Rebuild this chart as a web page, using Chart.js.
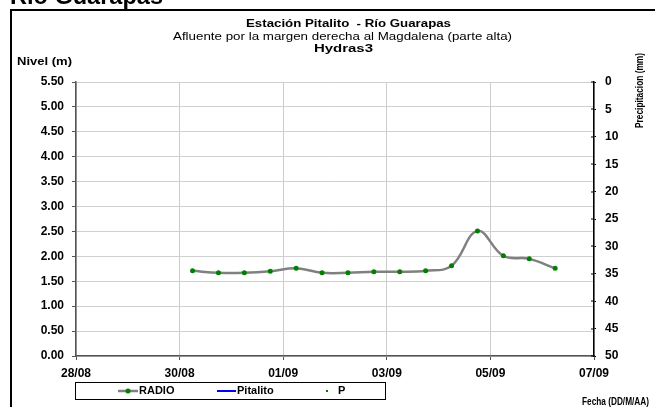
<!DOCTYPE html>
<html>
<head>
<meta charset="utf-8">
<script src="https://cdn.jsdelivr.net/npm/chart.js@4/dist/chart.umd.min.js"></script>
<style>
html,body{margin:0;padding:0;background:#fff;}
#wrap{position:relative;width:655px;height:407px;}
</style>
</head>
<body>
<div id="wrap"><canvas id="c" width="655" height="407"></canvas></div>
<script>
// ---- data ----
const categories = ['30/08 06:00','30/08 18:00','31/08 06:00','31/08 18:00','01/09 06:00','01/09 18:00','02/09 06:00','02/09 18:00','03/09 06:00','03/09 18:00','04/09 06:00','04/09 18:00','05/09 06:00','05/09 18:00','06/09 06:00'];
const radioValues = [1.71,1.67,1.67,1.70,1.76,1.67,1.67,1.69,1.69,1.71,1.81,2.51,2.01,1.95,1.76];
const pitalitoValues = [];
const precipValues = [];
const xTickLabels = ['28/08','30/08','01/09','03/09','05/09','07/09'];
const seriesNames = ['RADIO','Pitalito','P'];
const titleLines = ['Estación Pitalito  - Río Guarapas','Afluente por la margen derecha al Magdalena (parte alta)','Hydras3'];
const pageTitle = 'Río Guarapas';
const yTitle = 'Nivel (m)';
const y2Title = 'Precipitacion (mm)';
const xTitle = 'Fecha (DD/M/AA)';

const FONT = '"Liberation Sans", Arial, sans-serif';

function toDay(s){
  const [d, t] = s.split(' ');
  const [dd, mm] = d.split('/').map(Number);
  const [hh, mi] = t.split(':').map(Number);
  const base = mm === 8 ? dd - 28 : dd + 3;
  return base + (hh + mi/60)/24;
}
const xs = categories.map(toDay);
const radioPts = xs.map((x,i)=>({x, y: radioValues[i]}));

function fitText(ctx, text, font, x1, x2, baseline){
  ctx.save();
  ctx.font = font;
  ctx.textAlign = 'left';
  ctx.textBaseline = 'alphabetic';
  const w = ctx.measureText(text).width;
  ctx.translate(x1, baseline);
  ctx.scale((x2 - x1) / w, 1);
  ctx.fillText(text, 0, 0);
  ctx.restore();
}

const textPlugin = {
  id: 'texts',
  afterDraw(chart){
    const ctx = chart.ctx;
    ctx.save();
    ctx.fillStyle = '#000';
    ctx.fillRect(10, 9, 645, 2);
    ctx.fillRect(10, 9, 2, 398);
    fitText(ctx, pageTitle, 'bold 23px ' + FONT, 10, 163, 3.5);
    fitText(ctx, titleLines[0], 'bold 11px ' + FONT, 246, 451, 27);
    fitText(ctx, titleLines[1], '11px ' + FONT, 173, 512, 39.5);
    fitText(ctx, titleLines[2], 'bold 11px ' + FONT, 314, 373, 52);
    fitText(ctx, yTitle, 'bold 11px ' + FONT, 17, 72, 65);
    fitText(ctx, xTitle, 'bold 11px ' + FONT, 582, 649, 405);
    ctx.save();
    ctx.translate(643, 128);
    ctx.rotate(-Math.PI/2);
    fitText(ctx, y2Title, 'bold 11px ' + FONT, 0, 75, 0);
    ctx.restore();
    // inward tick marks on right axis (from the library's scale)
    const s2 = chart.scales.y2;
    ctx.fillStyle = '#000';
    s2.ticks.forEach(t => {
      const py = Math.round(s2.getPixelForValue(t.value));
      ctx.fillRect(s2.left - 3, py - 0.5, 3, 1);
    });
    // legend
    const lx = 75, ly = 382, lw = 310, lh = 17;
    ctx.strokeStyle = '#000';
    ctx.lineWidth = 1;
    ctx.strokeRect(lx + 0.5, ly + 0.5, lw, lh);
    const ds = chart.data.datasets;
    const cy = ly + lh/2 + 0.5;
    ctx.font = 'bold 11px ' + FONT;
    ctx.textAlign = 'left';
    ctx.textBaseline = 'middle';
    ctx.strokeStyle = ds[0].borderColor; ctx.lineWidth = 2.5;
    ctx.beginPath(); ctx.moveTo(118, cy); ctx.lineTo(138, cy); ctx.stroke();
    ctx.fillStyle = ds[0].pointBackgroundColor;
    ctx.beginPath(); ctx.arc(128, cy, 2.5, 0, Math.PI*2); ctx.fill();
    ctx.fillStyle = '#000'; ctx.fillText(ds[0].label, 139, cy);
    ctx.strokeStyle = ds[1].borderColor; ctx.lineWidth = 2;
    ctx.beginPath(); ctx.moveTo(217, cy); ctx.lineTo(236, cy); ctx.stroke();
    ctx.fillStyle = '#000'; ctx.fillText(ds[1].label, 237, cy);
    ctx.fillStyle = ds[2].pointBackgroundColor;
    ctx.fillRect(326, cy - 1, 2, 2);
    ctx.fillStyle = '#000'; ctx.fillText(ds[2].label, 338, cy);
    ctx.restore();
  }
};

new Chart(document.getElementById('c'), {
  type: 'line',
  data: {
    datasets: [
      {label: seriesNames[0], data: radioPts, borderColor: '#808080', borderWidth: 2.5, pointBackgroundColor: '#008000', pointBorderColor: '#008000', pointRadius: 2.5, pointBorderWidth: 0, tension: 0.4, yAxisID: 'y'},
      {label: seriesNames[1], data: xs.slice(0, pitalitoValues.length).map((x,i)=>({x, y: pitalitoValues[i]})), borderColor: '#0000ff', borderWidth: 2, pointRadius: 0, yAxisID: 'y'},
      {label: seriesNames[2], data: xs.slice(0, precipValues.length).map((x,i)=>({x, y: precipValues[i]})), showLine: false, borderColor: '#008000', pointBackgroundColor: '#008000', pointRadius: 1.5, yAxisID: 'y2'}
    ]
  },
  options: {
    responsive: false,
    animation: false,
    layout: {padding: {left: 0, right: 0, top: 82, bottom: 0}},
    plugins: {legend: {display: false}, title: {display: false}, tooltip: {enabled: false}},
    scales: {
      x: {
        type: 'linear', min: 0, max: 10,
        ticks: {stepSize: 2, padding: 6, color: '#000', font: {family: FONT, size: 12, weight: 'bold'},
          callback: (v) => xTickLabels[Math.round(v/2)], maxRotation: 0, autoSkip: false},
        grid: {color: '#cccccc', lineWidth: 1, tickLength: 4, tickColor: '#555'},
        border: {color: '#555', width: 1.5},
        afterFit: (s) => { s.height = 51; }
      },
      y: {
        position: 'left', min: 0, max: 5.5,
        ticks: {stepSize: 0.5, padding: 8, color: '#000', font: {family: FONT, size: 12, weight: 'bold'}, callback: (v) => Number(v).toFixed(2)},
        grid: {color: '#d0d0d0', lineWidth: 1, tickLength: 4, tickColor: '#555'},
        border: {color: '#555', width: 1.5},
        afterFit: (s) => { s.width = 76; }
      },
      y2: {
        position: 'right', min: 0, max: 50, reverse: true,
        ticks: {stepSize: 5, padding: 9, color: '#000', font: {family: FONT, size: 12, weight: 'bold'}},
        grid: {drawOnChartArea: false, tickLength: 2, tickColor: '#000'},
        border: {color: '#000', width: 1.5},
        afterFit: (s) => { s.width = 61; }
      }
    }
  },
  plugins: [textPlugin]
});
</script>
</body>
</html>
